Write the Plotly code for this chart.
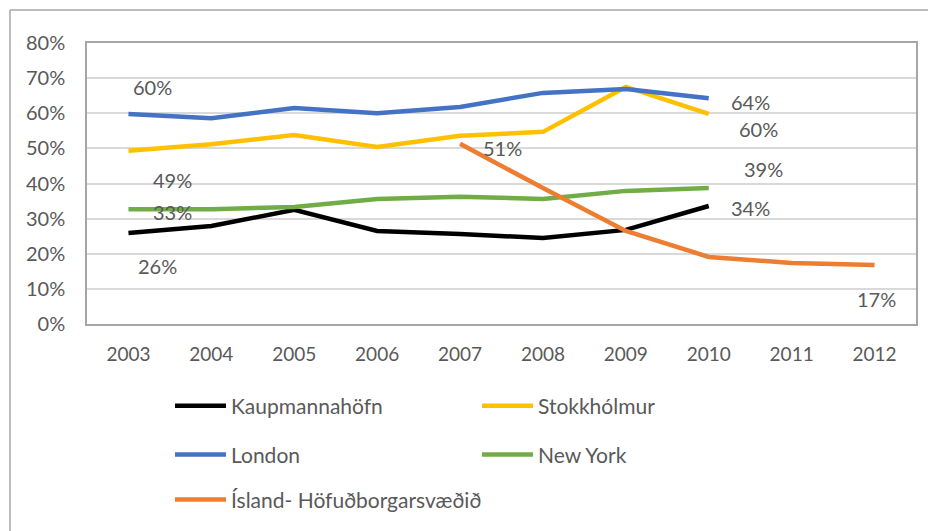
import plotly.graph_objects as go

years = ["2003", "2004", "2005", "2006", "2007", "2008", "2009", "2010", "2011", "2012"]
y_ticks = [0, 0.1, 0.2, 0.3, 0.4, 0.5, 0.6, 0.7, 0.8]

kaupmannahofn = [0.259, 0.279, 0.325, 0.265, 0.256, 0.245, 0.268, 0.336, None, None]
stokkholmur = [0.493, 0.512, 0.538, 0.504, 0.536, 0.547, 0.675, 0.598, None, None]
london = [0.598, 0.586, 0.615, 0.600, 0.618, 0.658, 0.669, 0.643, None, None]
new_york = [0.327, 0.327, 0.333, 0.356, 0.362, 0.356, 0.379, 0.387, None, None]
island = [None, None, None, None, 0.513, 0.387, 0.265, 0.191, 0.174, 0.168]

series = [
    ("Kaupmannahöfn", kaupmannahofn, "#000000", "legend"),
    ("Stokkhólmur", stokkholmur, "#FFC000", "legend"),
    ("London", london, "#4472C4", "legend2"),
    ("New York", new_york, "#70AD47", "legend2"),
    ("Ísland- Höfuðborgarsvæðið", island, "#ED7D31", "legend3"),
]

# data labels: (series values, year index, xshift, yshift)
labels = [
    (london, 0, 24, 27),
    (stokkholmur, 0, 44, -29),
    (new_york, 0, 44, -3),
    (kaupmannahofn, 0, 29, -33),
    (island, 4, 42, -4),
    (london, 7, 42, -4),
    (stokkholmur, 7, 50, -15),
    (new_york, 7, 55, 19),
    (kaupmannahofn, 7, 42, -2),
    (island, 9, 2, -34),
]

font_family = "Lato, 'Open Sans', sans-serif"
grey_text = "#595959"

fig = go.Figure()
for name, vals, color, leg in series:
    fig.add_trace(go.Scatter(
        x=years, y=vals, name=name, mode="lines",
        line=dict(color=color, width=4.5),
        legend=leg,
    ))

# category axis: annotation x given as category index
for vals, i, dx, dy in labels:
    fig.add_annotation(
        x=i, y=vals[i], text=f"{round(vals[i] * 100)}%",
        showarrow=False, xshift=dx, yshift=dy,
        font=dict(size=20, color=grey_text, family=font_family),
    )

# page body has an 8px margin, so everything is shifted by 8px
ml, mt, plot_w, plot_h = 79, 35, 829, 281

# outer chart-area border (left and top visible)
bx = (2 - ml) / plot_w
by = 1 + (mt - 2) / plot_h
fig.add_shape(type="line", xref="paper", yref="paper", x0=bx, x1=bx, y0=-1, y1=by,
              line=dict(color="#A6A6A6", width=1.5))
fig.add_shape(type="line", xref="paper", yref="paper", x0=bx, x1=1.2, y0=by, y1=by,
              line=dict(color="#A6A6A6", width=1.5))

leg_common = dict(
    orientation="h", entrywidthmode="pixels", itemwidth=51,
    font=dict(size=21, color=grey_text, family=font_family),
    bgcolor="rgba(0,0,0,0)", x=0.1001, xanchor="left", yanchor="middle",
)

fig.update_layout(
    width=936, height=531,
    margin=dict(l=ml, r=936 - ml - plot_w, t=mt, b=531 - mt - plot_h),
    paper_bgcolor="white", plot_bgcolor="white",
    font=dict(family=font_family, color=grey_text, size=19),
    legend=dict(y=-0.292, entrywidth=241, **leg_common),
    legend2=dict(y=-0.466, entrywidth=241, **leg_common),
    legend3=dict(y=-0.626, entrywidth=400, **leg_common),
    showlegend=True,
)
fig.update_xaxes(
    type="category", range=[-0.5, 9.5],
    showgrid=False, showline=True, mirror=True, linecolor="#A6A6A6", linewidth=1.5,
    ticks="", ticklabelstandoff=12,
    tickfont=dict(size=19, color=grey_text),
)
fig.update_yaxes(
    range=[0, 0.8], tickvals=y_ticks, tickformat=".0%",
    showgrid=True, gridcolor="#D9D9D9", gridwidth=1.5,
    showline=True, mirror=True, linecolor="#A6A6A6", linewidth=1.5,
    zeroline=False, ticks="", ticklabelstandoff=16,
    tickfont=dict(size=20, color=grey_text),
)

fig.write_html("out.html")
